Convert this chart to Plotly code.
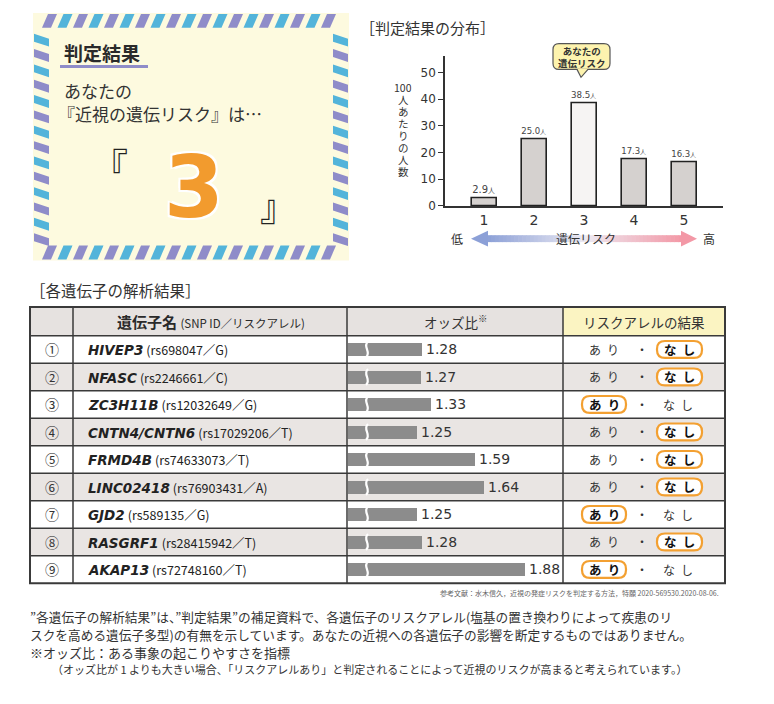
import plotly.graph_objects as go

# the page body has an 8px margin, so the figure is drawn 8px in from the corner
OX, OY = 8, 8
W, H = 766, 696
JP = "Noto Sans CJK JP"
LAT = "DejaVu Sans"

# ---------------- data ----------------
risk_levels = [1, 2, 3, 4, 5]
people_per_100 = [2.9, 25.0, 38.5, 17.3, 16.3]
your_level = 3
y_ticks = [0, 10, 20, 30, 40, 50]
y_title_chars = ["100", "人", "あ", "た", "り", "の", "人", "数"]

gene_nums = ["①", "②", "③", "④", "⑤", "⑥", "⑦", "⑧", "⑨"]
gene_names = ["HIVEP3", "NFASC", "ZC3H11B", "CNTN4/CNTN6", "FRMD4B",
              "LINC02418", "GJD2", "RASGRF1", "AKAP13"]
snp_ids = ["rs698047", "rs2246661", "rs12032649", "rs17029206", "rs74633073",
           "rs76903431", "rs589135", "rs28415942", "rs72748160"]
risk_alleles = ["G", "C", "G", "T", "T", "A", "G", "T", "T"]
odds_ratios = [1.28, 1.27, 1.33, 1.25, 1.59, 1.64, 1.25, 1.28, 1.88]
has_risk_allele = [False, False, True, False, False, False, True, False, True]

# ---------------- helpers ----------------
def X(px):
    return (px - OX) / W

def Y(py):
    return 1 - (py - OY) / H

shapes = []
annotations = []

def rect(x0, y0, x1, y1, fill=None, line=None, lw=0, layer="below"):
    shapes.append(dict(type="rect", xref="paper", yref="paper",
                       x0=X(x0), x1=X(x1), y0=Y(y1), y1=Y(y0),
                       fillcolor=fill if fill else "rgba(0,0,0,0)",
                       line=dict(color=line if line else "rgba(0,0,0,0)", width=lw),
                       layer=layer))

def pt(x, y):
    return f"{X(x):.5f},{Y(y):.5f}"

def poly(pts, fill, line=None, lw=0, layer="below"):
    p = "M " + " L ".join(pt(x, y) for x, y in pts) + " Z"
    shapes.append(dict(type="path", xref="paper", yref="paper", path=p,
                       fillcolor=fill,
                       line=dict(color=line if line else "rgba(0,0,0,0)", width=lw),
                       layer=layer))

def hline(x0, x1, y, color, lw, layer="below"):
    shapes.append(dict(type="line", xref="paper", yref="paper",
                       x0=X(x0), x1=X(x1), y0=Y(y), y1=Y(y),
                       line=dict(color=color, width=lw), layer=layer))

def vline(x, y0, y1, color, lw, layer="below"):
    shapes.append(dict(type="line", xref="paper", yref="paper",
                       x0=X(x), x1=X(x), y0=Y(y0), y1=Y(y1),
                       line=dict(color=color, width=lw), layer=layer))

def rrect(x0, y0, x1, y1, r, fill, line, lw, layer="above"):
    p = (f"M {pt(x0 + r, y0)} L {pt(x1 - r, y0)} Q {pt(x1, y0)} {pt(x1, y0 + r)} "
         f"L {pt(x1, y1 - r)} Q {pt(x1, y1)} {pt(x1 - r, y1)} "
         f"L {pt(x0 + r, y1)} Q {pt(x0, y1)} {pt(x0, y1 - r)} "
         f"L {pt(x0, y0 + r)} Q {pt(x0, y0)} {pt(x0 + r, y0)} Z")
    shapes.append(dict(type="path", xref="paper", yref="paper", path=p,
                       fillcolor=fill, line=dict(color=line, width=lw), layer=layer))

def text(x, y, s, size, color="#333333", family=JP, xanchor="center",
         yanchor="middle", box=None, **kw):
    a = dict(xref="paper", yref="paper", x=X(x), y=Y(y), text=s,
             showarrow=False, xanchor=xanchor, yanchor=yanchor,
             font=dict(size=size, color=color, family=family, **kw))
    if box:
        a.update(height=box, borderpad=0)
    annotations.append(a)

# ---------------- top-left result card ----------------
PURPLE, BLUE, CREAM = "#8f8cc9", "#53b4da", "#fdfadf"
bx0, by0, bx1, by1, t = 33, 13, 349, 263, 15
rect(bx0, by0, bx1, by1, fill=CREAM)
k = 0
x = 42
while x < bx1 - 16:
    col = PURPLE if k % 2 == 0 else BLUE
    poly([(x, by0 + t), (x + 9, by0 + t), (x + 15, by0 + 1), (x + 6, by0 + 1)], col)
    poly([(x, by1 - 1), (x + 9, by1 - 1), (x + 15, by1 - t), (x + 6, by1 - t)], col)
    x += 15.5
    k += 1
k = 0
y = 34
while y < by1 - 24:
    col = BLUE if k % 2 == 0 else PURPLE
    poly([(bx0 + 1, y), (bx0 + t + 1, y + 5), (bx0 + t + 1, y + 13), (bx0 + 1, y + 8)], col)
    poly([(bx1 - t - 1, y), (bx1 - 1, y + 5), (bx1 - 1, y + 13), (bx1 - t - 1, y + 8)], col)
    y += 15.5
    k += 1

text(62, 53, "<b>判定結果</b>", 19, color="#2a2a2a", xanchor="left")
hline(60, 148, 67, PURPLE, 3)
text(62, 91, "あなたの", 17, xanchor="left")
text(56, 115, "『近視の遺伝リスク』は…", 17, xanchor="left")
text(90, 166, "『", 36, color="#222222", xanchor="left")
text(258, 207, "』", 36, color="#222222", xanchor="left")
text(194, 189, f"<b>{your_level}</b>", 86, color="#f29b2e", family=LAT,
     shadow="2px 2px 0 #fff, -2px -2px 0 #fff, 2px -2px 0 #fff, -2px 2px 0 #fff")

# ---------------- top-right distribution chart ----------------
text(358, 28, "［判定結果の分布］", 15, xanchor="left")
for i, ch in enumerate(y_title_chars):
    text(403, 88 + 12.1 * i, ch, 10.5, box=11)

bar_colors = ["#f6f4f3" if lv == your_level else "#d5d1cf" for lv in risk_levels]
bar_text = [f"{v:.1f}<span style='font-size:{9 if lv == your_level else 7}px'>人</span>"
            for lv, v in zip(risk_levels, people_per_100)]
bar_text_size = [14 if lv == your_level else 10 for lv in risk_levels]

rrect(553, 44, 610, 70, 6, "#fdf3ae", "#555555", 1.2)
poly([(577, 69.4), (582, 78), (588, 69.4)], "#fdf3ae", layer="above")
shapes.append(dict(type="path", xref="paper", yref="paper",
                   path=f"M {pt(577, 70)} L {pt(581, 78)} L {pt(588, 70)}",
                   line=dict(color="#555555", width=1.2), layer="above"))
text(581.5, 57, "<b>あなたの<br>遺伝リスク</b>", 9.5, color="#333333")

def lerp(c1, c2, f):
    return tuple(round(a + (b - a) * f) for a, b in zip(c1, c2))

cL, cM, cR = (140, 160, 215), (236, 234, 242), (243, 152, 166)
ax0, axm, ax1 = 487, 585, 682
n = 50
for j in range(n):
    xa = ax0 + (ax1 - ax0) * j / n
    xb = ax0 + (ax1 - ax0) * (j + 1) / n + 0.6
    xc = (xa + xb) / 2
    if xc < axm:
        c = lerp(cL, cM, (xc - ax0) / (axm - ax0))
    else:
        c = lerp(cM, cR, (xc - axm) / (ax1 - axm))
    rect(xa, 237.5, xb, 244.5, fill=f"rgb{c}")
poly([(471, 241), (488, 233), (488, 249)], f"rgb{cL}")
poly([(697, 241), (681, 233), (681, 249)], f"rgb{cR}")
text(457, 241, "低", 12)
text(586, 241, "遺伝リスク", 12)
text(709, 241, "高", 12)

# ---------------- gene table ----------------
text(28, 293, "［各遺伝子の解析結果］", 15.5, xanchor="left")

TX = [30, 73, 347, 563, 725]
ty0, ty1 = 310, 339
rh = (589 - 339) / 9
LINE = "#3a3a3a"
rect(TX[0], ty0, TX[3], ty1, fill="#e6e2e0")
rect(TX[3], ty0, TX[4], ty1, fill="#fbf4c2")
for i in range(9):
    if i % 2 == 1:
        rect(TX[0], ty1 + i * rh, TX[4], ty1 + (i + 1) * rh, fill="#e9e5e3")
hline(TX[0], TX[4], ty1, LINE, 1.5)
for i in range(1, 9):
    hline(TX[0], TX[4], ty1 + i * rh, LINE, 1.5)
for xv in TX[1:4]:
    vline(xv, ty0, 589, LINE, 1.5)
rect(TX[0], ty0, TX[4], 589, line=LINE, lw=2)

text(211, 325, "<b>遺伝子名</b> <span style='font-size:11.5px'>(SNP ID／リスクアレル)</span>",
     15, color="#2a2a2a")
text(455, 325, "オッズ比<sup>※</sup>", 13.5, color="#333333")
text(644, 325, "リスクアレルの結果", 13.5, color="#333333")

ORANGE = "#f3a031"
for i in range(9):
    yc = ty1 + (i + 0.5) * rh
    text(51.5, yc, gene_nums[i], 14, color="#333333")
    text(86, yc,
         f"<span style=\"font-family:'DejaVu Sans'\"><b><i>{gene_names[i]}</i></b></span>"
         f" <span style='font-size:12.5px'>({snp_ids[i]}／{risk_alleles[i]})</span>",
         13.5, color="#222222", xanchor="left")
    shapes.append(dict(type="path", xref="paper", yref="paper",
                       path=(f"M {pt(368, yc - 8)} C {pt(362, yc - 3)} {pt(372, yc + 3)} "
                             f"{pt(366, yc + 8)}"),
                       line=dict(color="white", width=2.2), layer="above"))
    if has_risk_allele[i]:
        rrect(582, yc - 8.5, 626, yc + 8.5, 8, "white", ORANGE, 2.2)
        text(604, yc, "<b>あ\u2002り</b>", 12.5, color="#111111")
        text(678, yc, "な\u2002し", 12, color="#333333")
    else:
        rrect(657, yc - 8.5, 702, yc + 8.5, 8, "white", ORANGE, 2.2)
        text(604, yc, "あ\u2002り", 12, color="#333333")
        text(679, yc, "<b>な\u2002し</b>", 12.5, color="#111111")
    text(642, yc, "・", 12, color="#333333")

for i, v in enumerate(odds_ratios):
    annotations.append(dict(xref="x3", yref="y3", x=v, y=i, text=f"{v:.2f}",
                            showarrow=False, xanchor="left", yanchor="middle", xshift=2,
                            font=dict(size=14, color="#333333", family=LAT)))

text(721, 599, "参考文献：水木信久，近視の発症リスクを判定する方法，特願 2020-569530.2020-08-06.",
     7, color="#666666", xanchor="right")

# ---------------- notes ----------------
text(28, 623, "”各遺伝子の解析結果”は、”判定結果”の補足資料で、各遺伝子のリスクアレル(塩基の置き換わりによって疾患のリ",
     12.7, xanchor="left")
text(28, 641, "スクを高める遺伝子多型)の有無を示しています。あなたの近視への各遺伝子の影響を断定するものではありません。",
     12.7, xanchor="left")
text(28, 659, "※オッズ比：ある事象の起こりやすさを指標", 13, xanchor="left")
text(50, 676, "（オッズ比が 1 よりも大きい場合、「リスクアレルあり」と判定されることによって近視のリスクが高まると考えられています。）",
     11, xanchor="left")

# ---------------- traces ----------------
fig = go.Figure()
fig.add_trace(go.Bar(x=risk_levels, y=people_per_100, xaxis="x2", yaxis="y2", width=0.5,
                     marker=dict(color=bar_colors, line=dict(color="#222222", width=1.6)),
                     text=bar_text, textposition="outside", cliponaxis=False,
                     textfont=dict(size=bar_text_size, color="#444444", family=LAT),
                     hoverinfo="skip", showlegend=False))
fig.add_trace(go.Bar(x=odds_ratios, y=list(range(len(odds_ratios))), orientation="h",
                     xaxis="x3", yaxis="y3", width=0.47,
                     marker=dict(color="#8c8c8c", line=dict(width=0)),
                     hoverinfo="skip", showlegend=False))

ppu = 2.7
fig.update_layout(
    width=W, height=H, margin=dict(l=0, r=0, t=0, b=0),
    paper_bgcolor="white", plot_bgcolor="rgba(0,0,0,0)",
    showlegend=False, bargap=0,
    shapes=shapes, annotations=annotations,
    xaxis=dict(visible=False), yaxis=dict(visible=False),
    xaxis2=dict(domain=[X(445), X(723)], range=[0.22, 5.78], anchor="y2",
                showline=True, linecolor="#333333", linewidth=1.5,
                tickvals=risk_levels, ticks="", showgrid=False, zeroline=False,
                tickfont=dict(size=14, color="#333333", family=LAT), fixedrange=True),
    yaxis2=dict(domain=[Y(208), Y(208 - 56 * ppu)], range=[0, 56], anchor="x2",
                showline=True, linecolor="#333333", linewidth=1.5,
                tickvals=y_ticks, ticks="outside", ticklen=5, tickcolor="#333333",
                showgrid=False, zeroline=False,
                tickfont=dict(size=12, color="#333333", family=LAT), fixedrange=True),
    xaxis3=dict(domain=[X(348), X(563)], range=[0.847, 2.101], anchor="y3", visible=False,
                fixedrange=True),
    yaxis3=dict(domain=[Y(589), Y(339)], range=[8.5, -0.5], anchor="x3", visible=False,
                fixedrange=True),
)
fig.write_html("out.html")
